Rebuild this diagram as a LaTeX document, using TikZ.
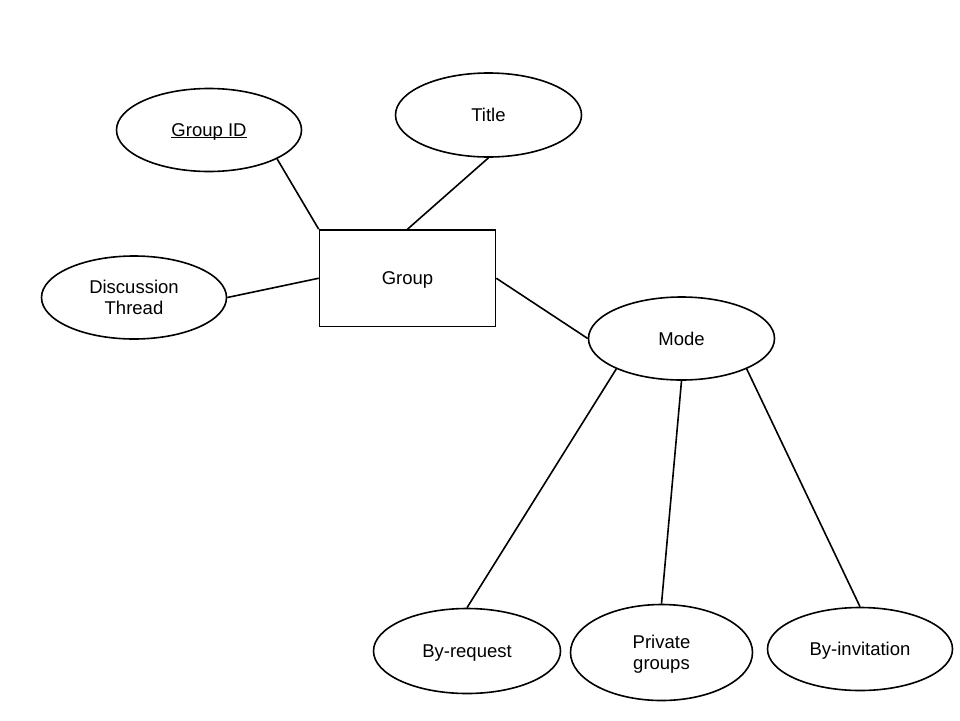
\documentclass[tikz,border=0pt]{standalone}
\usepackage{fontspec}
\setmainfont{Liberation Sans}
\usetikzlibrary{shapes.geometric}
% key attribute: thin rule just under the baseline, through the descenders
\newcommand\ulkey[1]{\setbox0\hbox{#1}\rlap{\rule[-1.8pt]{\wd0}{1.3pt}}\box0}
\begin{document}
\begin{tikzpicture}[x=1pt,y=-1pt,
  label font/.style={font=\fontsize{18.5}{21}\selectfont,text depth=0pt},
  attr/.style={ellipse,draw,line width=1.6pt,inner sep=0pt,align=center,label font},
  entity/.style={rectangle,draw,line width=1.6pt,inner sep=0pt,align=center,label font},
  link/.style={line width=1.6pt}]
\useasboundingbox (0,0) rectangle (960,720);

% entity
\node[entity,minimum width=176pt,minimum height=96.5pt] (group) at (407.5,278.25) {Group};

% attributes of the entity
\node[attr,minimum width=185pt,minimum height=83pt] (gid) at (209,130) {\ulkey{Group ID}};
\node[attr,minimum width=186pt,minimum height=84pt] (title) at (488.5,115) {Title};
\node[attr,minimum width=185pt,minimum height=83pt] (disc) at (134,297.5) {Discussion\\Thread};
\node[attr,minimum width=186pt,minimum height=83pt] (mode) at (681.5,338.5) {Mode};

% values of the mode attribute
\node[attr,minimum width=187pt,minimum height=85pt] (breq) at (467,651) {By-request};
\node[attr,minimum width=182pt,minimum height=96pt] (priv) at (661.5,652.5) {Private\\groups};
\node[attr,minimum width=185pt,minimum height=83pt] (binv) at (860,649) {By-invitation};

% connectors
\draw[link] (gid.337) -- (group.north west);
\draw[link] (title.270) -- (group.north);
\draw[link] (disc.0) -- (group.west);
\draw[link] (group.east) -- (mode.180);
\draw[link] (mode.205) -- (breq.90);
\draw[link] (mode.270) -- (priv.90);
\draw[link] (mode.335) -- (binv.90);
\end{tikzpicture}
\end{document}
